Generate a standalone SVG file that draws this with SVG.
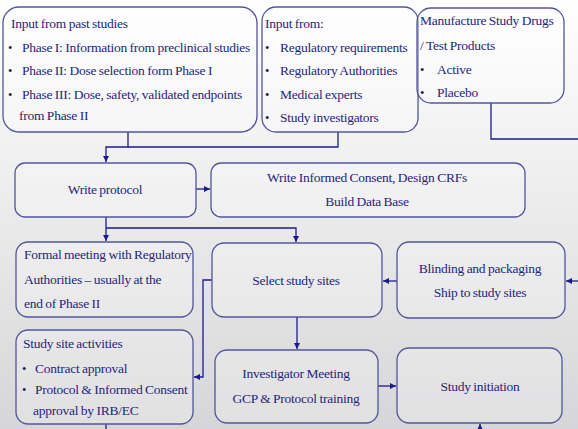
<svg xmlns="http://www.w3.org/2000/svg" width="578" height="429" viewBox="0 0 578 429">
  <defs>
    <linearGradient id="bg" x1="0" y1="0" x2="0" y2="1">
      <stop offset="0" stop-color="#ffffff"/>
      <stop offset="0.35" stop-color="#f1f1f2"/>
      <stop offset="1" stop-color="#d6d6d8"/>
    </linearGradient>
    <marker id="arrow" markerUnits="userSpaceOnUse" markerWidth="7" markerHeight="7" refX="6" refY="3" orient="auto">
      <path d="M0,0 L6,3 L0,6 z" fill="#1c1c88"/>
    </marker>
    <style>
      .box { fill: #ffffff; fill-opacity: 0.25; stroke: #55559a; stroke-width: 1.3; }
      .t { font-size: 13.5px; letter-spacing: -0.25px; word-spacing: -0.5px; fill: #26267a; }
      .c { text-anchor: middle; }
      .b { font-size: 12.5px; fill: #1a1a40; }
      .link { fill: none; stroke: #1c1c88; stroke-width: 1.3; }
    </style>
  </defs>

  <rect x="0" y="0" width="578" height="429" fill="url(#bg)"/>

  <g id="connectors">
    <path class="link" d="M128 132 V147 H106 V162" marker-end="url(#arrow)"/>
    <path class="link" d="M338 132 V147 H128"/>
    <path class="link" d="M491 103 V139 H578"/>
    <path class="link" d="M578 281 H566" marker-end="url(#arrow)"/>
    <path class="link" d="M397 281 H383" marker-end="url(#arrow)"/>
    <path class="link" d="M196 189 H210" marker-end="url(#arrow)"/>
    <path class="link" d="M106 217 V241" marker-end="url(#arrow)"/>
    <path class="link" d="M106 228 H296 V242" marker-end="url(#arrow)"/>
    <path class="link" d="M212 280 H203 V377 H194" marker-end="url(#arrow)"/>
    <path class="link" d="M297 317 V349" marker-end="url(#arrow)"/>
    <path class="link" d="M378 386 H396" marker-end="url(#arrow)"/>
    <path class="link" d="M106 424 V429"/>
    <path class="link" d="M480 429 V424" marker-end="url(#arrow)"/>
  </g>

  <g font-family="Liberation Serif, Times New Roman, serif">
  <g id="past-studies">
    <rect class="box" x="3" y="7" width="254" height="125" rx="16"/>
    <text class="t" x="11" y="28">Input from past studies</text>
    <text class="b" x="8" y="52">•</text>
    <text class="t" x="22" y="52">Phase I: Information from preclinical studies</text>
    <text class="b" x="8" y="75">•</text>
    <text class="t" x="22" y="75">Phase II: Dose selection form Phase I</text>
    <text class="b" x="8" y="99">•</text>
    <text class="t" x="22" y="99">Phase III: Dose, safety, validated endpoints</text>
    <text class="t" x="19" y="120">from Phase II</text>
  </g>

  <g id="input-from">
    <rect class="box" x="262" y="7" width="156" height="125" rx="14"/>
    <text class="t" x="265" y="27.5">Input from:</text>
    <text class="b" x="265" y="52">•</text>
    <text class="t" x="280" y="52">Regulatory requirements</text>
    <text class="b" x="265" y="75">•</text>
    <text class="t" x="280" y="75">Regulatory Authorities</text>
    <text class="b" x="265" y="99">•</text>
    <text class="t" x="280" y="99">Medical experts</text>
    <text class="b" x="265" y="121.5">•</text>
    <text class="t" x="280" y="121.5">Study investigators</text>
  </g>

  <g id="manufacture">
    <rect class="box" x="417" y="8" width="147" height="95" rx="14"/>
    <text class="t" x="420" y="24.5">Manufacture Study Drugs</text>
    <text class="t" x="420" y="49.5">/ Test Products</text>
    <text class="b" x="420" y="73.5">•</text>
    <text class="t" x="437" y="73.5">Active</text>
    <text class="b" x="420" y="96.5">•</text>
    <text class="t" x="437" y="96.5">Placebo</text>
  </g>

  <g id="write-protocol">
    <rect class="box" x="15" y="163" width="181" height="54" rx="10"/>
    <text class="t c" x="105" y="193.5">Write protocol</text>
  </g>

  <g id="write-consent">
    <rect class="box" x="211" y="163" width="314" height="54" rx="10"/>
    <text class="t c" x="367" y="181.5">Write Informed Consent, Design CRFs</text>
    <text class="t c" x="367" y="206">Build Data Base</text>
  </g>

  <g id="formal-meeting">
    <rect class="box" x="16" y="242" width="177" height="75" rx="12"/>
    <text class="t" x="24" y="258.5">Formal meeting with Regulatory</text>
    <text class="t" x="24" y="283.5">Authorities – usually at the</text>
    <text class="t" x="24" y="307.5">end of Phase II</text>
  </g>

  <g id="site-activities">
    <rect class="box" x="16" y="330" width="177" height="94" rx="12"/>
    <text class="t" x="23" y="347.5">Study site activities</text>
    <text class="b" x="22" y="372.5">•</text>
    <text class="t" x="35" y="372.5">Contract approval</text>
    <text class="b" x="22" y="393.5">•</text>
    <text class="t" x="35" y="393.5">Protocol &amp; Informed Consent</text>
    <text class="t" x="33" y="414.5">approval by IRB/EC</text>
  </g>

  <g id="select-sites">
    <rect class="box" x="212" y="243" width="170" height="74" rx="12"/>
    <text class="t c" x="296" y="284.5">Select study sites</text>
  </g>

  <g id="blinding">
    <rect class="box" x="397" y="242" width="168" height="76" rx="12"/>
    <text class="t c" x="480" y="272.5">Blinding and packaging</text>
    <text class="t c" x="480" y="296.5">Ship to study sites</text>
  </g>

  <g id="investigator-meeting">
    <rect class="box" x="215" y="350" width="163" height="73" rx="12"/>
    <text class="t c" x="296" y="377.5">Investigator Meeting</text>
    <text class="t c" x="296" y="402.5">GCP &amp; Protocol training</text>
  </g>

  <g id="study-initiation">
    <rect class="box" x="397" y="348" width="165" height="75" rx="12"/>
    <text class="t c" x="480" y="390.5">Study initiation</text>
  </g>
  </g>
</svg>
